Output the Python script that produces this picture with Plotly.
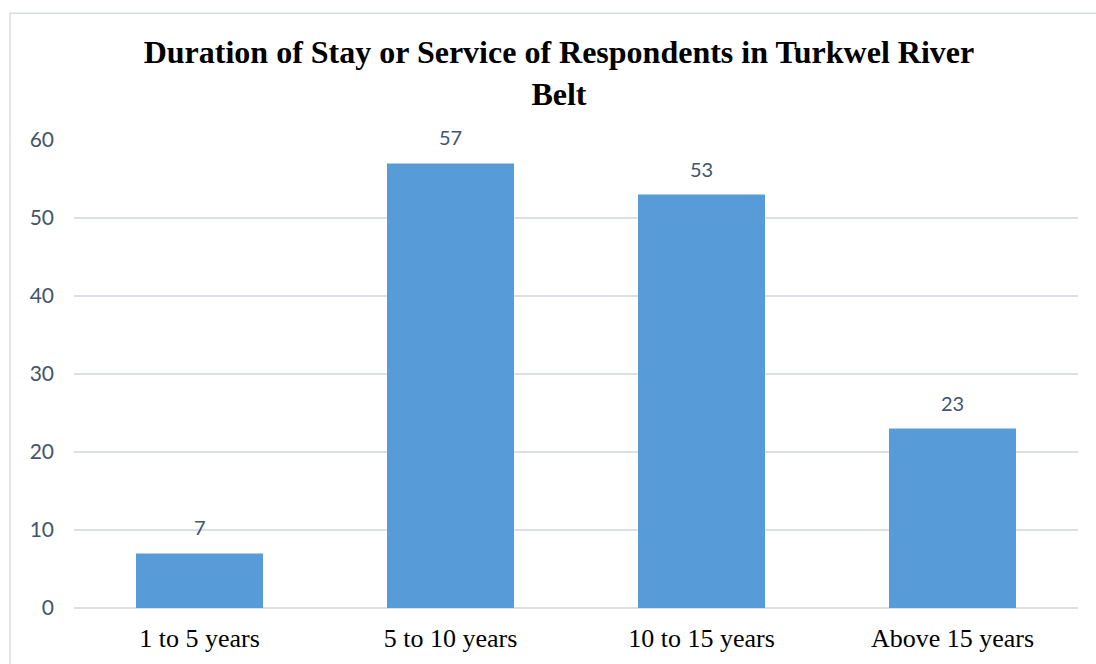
import plotly.graph_objects as go

categories = ["1 to 5 years", "5 to 10 years", "10 to 15 years", "Above 15 years"]
values = [7, 57, 53, 23]
y_ticks = [0, 10, 20, 30, 40, 50, 60]

title_text = "<b>Duration of Stay or Service of Respondents in Turkwel River<br>Belt</b>"

fig = go.Figure()
fig.add_trace(go.Bar(
    x=categories,
    y=values,
    marker=dict(color="#589BD9", line=dict(width=0)),
    width=0.506,
    hoverinfo="x+y",
))

for c, v in zip(categories, values):
    fig.add_annotation(
        x=c, y=v, text=str(v), showarrow=False, yshift=26,
        font=dict(family="Lato, Open Sans, sans-serif", size=20, color="#44546A"),
    )

fig.add_shape(
    type="rect", xref="paper", yref="paper",
    x0=-0.0637, x1=1.2, y0=-0.3, y1=1.271,
    line=dict(color="#D9DEE6", width=1.5), fillcolor="rgba(0,0,0,0)",
    layer="below",
)

fig.update_layout(
    width=1096, height=664,
    margin=dict(l=74, r=18, t=140, b=56),
    paper_bgcolor="white", plot_bgcolor="white",
    showlegend=False,
    title=dict(
        text=title_text, x=0.51, xanchor="center", y=0.905, yanchor="top",
        font=dict(family="Liberation Serif, Times New Roman, serif", size=32, color="black"),
    ),
    xaxis=dict(
        showgrid=False, showline=False, ticks="",
        tickfont=dict(family="Liberation Serif, Times New Roman, serif", size=26, color="black"),
        ticklabelstandoff=12,
    ),
    yaxis=dict(
        range=[0, 60], tickvals=y_ticks,
        showgrid=True, gridcolor="#DDE1E6", gridwidth=1.5,
        zeroline=True, zerolinecolor="#DDE1E6", zerolinewidth=1.5,
        showline=False, ticks="",
        tickfont=dict(family="Lato, Open Sans, sans-serif", size=21, color="#44546A"),
        ticklabelstandoff=19,
    ),
    bargap=0.494,
)

fig.write_html("out.html")
